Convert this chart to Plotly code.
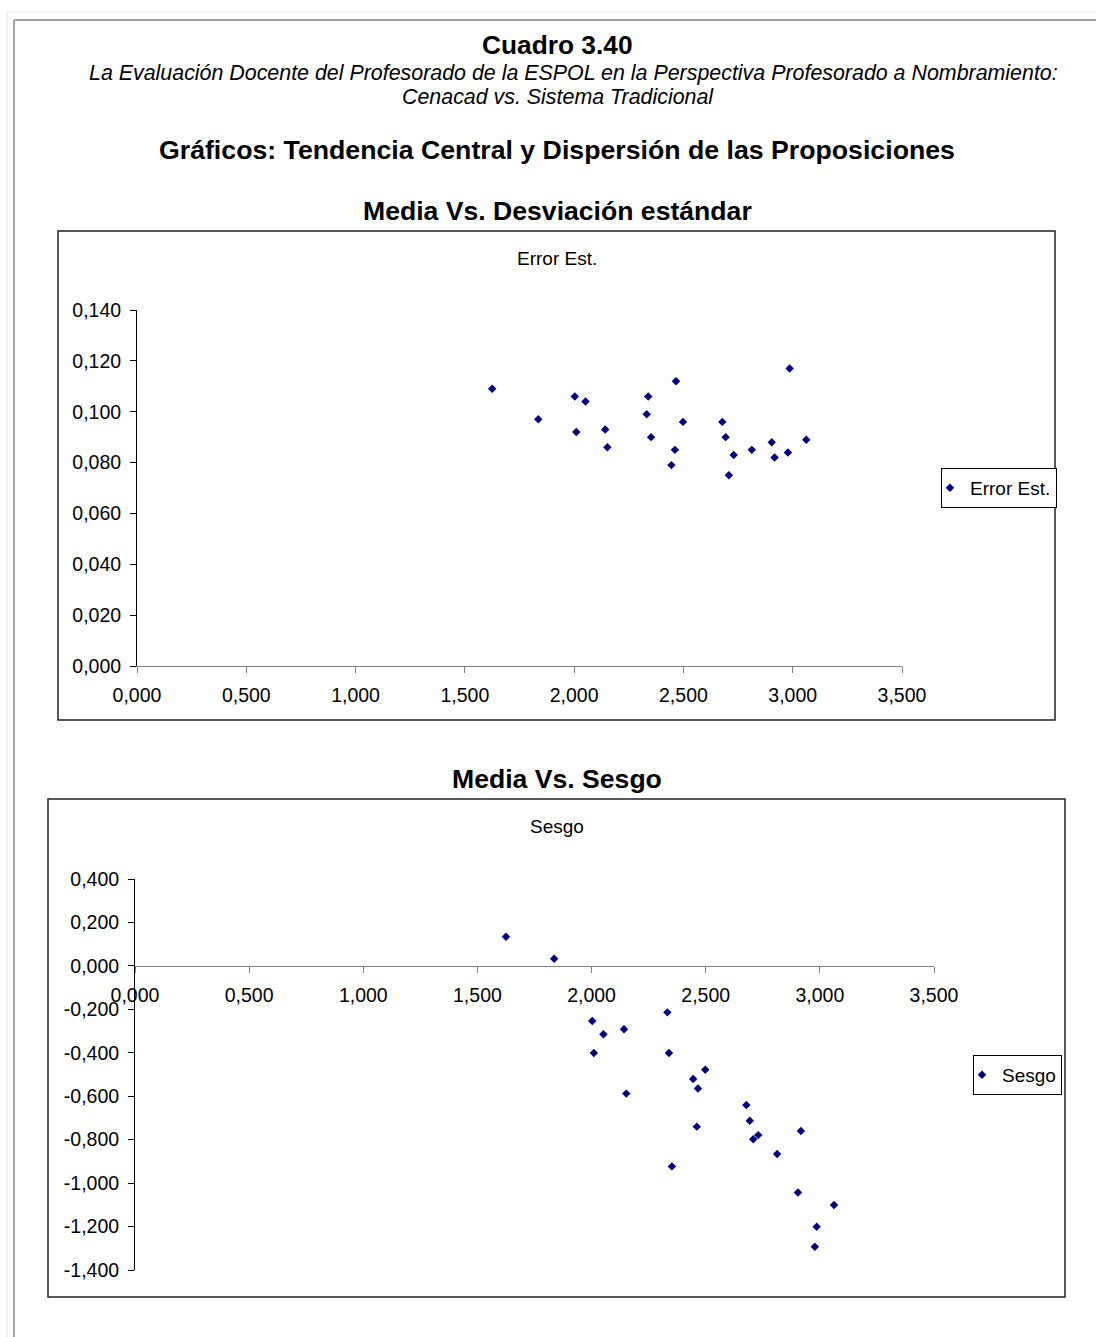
import plotly.graph_objects as go

# Mean score of each proposition and its dispersion statistics
medias = [1.625, 1.836, 2.003, 2.010, 2.052, 2.142, 2.152, 2.332, 2.339, 2.352,
          2.445, 2.461, 2.466, 2.498, 2.678, 2.693, 2.708, 2.730, 2.813, 2.904,
          2.917, 2.978, 2.986, 3.062]
error_est = [0.109, 0.097, 0.106, 0.092, 0.104, 0.093, 0.086, 0.099, 0.106, 0.090,
             0.079, 0.085, 0.112, 0.096, 0.096, 0.090, 0.075, 0.083, 0.085, 0.088,
             0.082, 0.084, 0.117, 0.089]
sesgo = [0.134, 0.033, -0.254, -0.401, -0.315, -0.292, -0.588, -0.214, -0.401, -0.923,
         -0.521, -0.740, -0.564, -0.478, -0.640, -0.713, -0.798, -0.779, -0.866, -1.043,
         -0.760, -1.293, -1.201, -1.101]

# Tick values and labels
x_ticks = [0.0, 0.5, 1.0, 1.5, 2.0, 2.5, 3.0, 3.5]
x_labels = ["0,000", "0,500", "1,000", "1,500", "2,000", "2,500", "3,000", "3,500"]
err_ticks = [0.0, 0.02, 0.04, 0.06, 0.08, 0.10, 0.12, 0.14]
err_labels = ["0,000", "0,020", "0,040", "0,060", "0,080", "0,100", "0,120", "0,140"]
sesgo_ticks = [0.4, 0.2, 0.0, -0.2, -0.4, -0.6, -0.8, -1.0, -1.2, -1.4]
sesgo_labels = ["0,400", "0,200", "0,000", "-0,200", "-0,400", "-0,600", "-0,800",
                "-1,000", "-1,200", "-1,400"]

W, H = 1096, 1337
FONT = "Liberation Sans, Arial, sans-serif"
NAVY = "#000080"


def px(x):
    return x / W


def py(y):
    return 1 - y / H


fig = go.Figure()

fig.add_trace(go.Scatter(
    x=medias, y=error_est, mode="markers", name="Error Est.",
    marker=dict(symbol="diamond", size=6.5, color=NAVY),
    xaxis="x", yaxis="y", legend="legend",
))
fig.add_trace(go.Scatter(
    x=medias, y=sesgo, mode="markers", name="Sesgo",
    marker=dict(symbol="diamond", size=6.5, color=NAVY),
    xaxis="x2", yaxis="y2", legend="legend2",
))

# Plot-area domains (pixels on the page)
top_x = [px(137), px(902)]
top_y = [py(666), py(310)]
bot_x = [px(135), px(934)]
bot_y = [py(1270), py(879)]
s_lo, s_hi = -1.4, 0.4
zero_pos = bot_y[0] + (0 - s_lo) / (s_hi - s_lo) * (bot_y[1] - bot_y[0])

tickfont = dict(family=FONT, size=19.5, color="black")

common_x = dict(range=[0, 3.5], tickvals=x_ticks, ticktext=x_labels,
                showgrid=False, zeroline=False, showline=True,
                linecolor="#808080", linewidth=1, ticks="outside", ticklen=6,
                tickcolor="#808080", tickwidth=1, tickfont=tickfont,
                ticklabelstandoff=6, fixedrange=True, automargin=False)
common_y = dict(showgrid=False, zeroline=False, showline=True,
                linecolor="black", linewidth=1, ticks="outside", ticklen=6,
                tickcolor="black", tickwidth=1, tickfont=tickfont,
                ticklabelstandoff=5, fixedrange=True, automargin=False)

legend_style = dict(xanchor="left", yanchor="middle",
                    bgcolor="white", bordercolor="black", borderwidth=1,
                    font=dict(family=FONT, size=19, color="black"),
                    itemwidth=30, indentation=-12)

fig.update_layout(
    width=W, height=H, autosize=False,
    margin=dict(l=0, r=0, t=0, b=0, pad=0, autoexpand=False),
    paper_bgcolor="white", plot_bgcolor="white",
    font=dict(family=FONT, color="black"),
    xaxis=dict(domain=top_x, anchor="y", **common_x),
    yaxis=dict(domain=top_y, anchor="x", range=[0, 0.14],
               tickvals=err_ticks, ticktext=err_labels, **common_y),
    xaxis2=dict(domain=bot_x, anchor="free", position=zero_pos, **common_x),
    yaxis2=dict(domain=bot_y, anchor="x2", range=[s_lo, s_hi],
                tickvals=sesgo_ticks, ticktext=sesgo_labels, **common_y),
    legend=dict(x=px(941), y=py(488), **legend_style),
    legend2=dict(x=px(973), y=py(1075), **legend_style),
    showlegend=True,
)

# Page frame (top and left edges run off the page) and chart frames
shapes = [
    dict(type="line", x0=px(7), x1=1, y0=py(12), y1=py(12),
         line=dict(color="#e4e4e4", width=1)),
    dict(type="line", x0=px(7), x1=px(7), y0=py(12), y1=0,
         line=dict(color="#e4e4e4", width=1)),
    dict(type="line", x0=px(14), x1=1, y0=py(20), y1=py(20),
         line=dict(color="#a0a0a0", width=2)),
    dict(type="line", x0=px(14), x1=px(14), y0=py(20), y1=0,
         line=dict(color="#a0a0a0", width=2)),
    dict(type="rect", x0=px(58), x1=px(1055), y0=py(231), y1=py(720),
         line=dict(color="#222222", width=1.5)),
    dict(type="rect", x0=px(48), x1=px(1065), y0=py(799), y1=py(1297),
         line=dict(color="#222222", width=1.5)),
]
for s in shapes:
    s.update(xref="paper", yref="paper", layer="below")
fig.update_layout(shapes=shapes)


def label(text, x, y, size, bold=False, italic=False):
    if bold:
        text = f"<b>{text}</b>"
    if italic:
        text = f"<i>{text}</i>"
    fig.add_annotation(text=text, x=px(x), y=py(y), xref="paper", yref="paper",
                       xanchor="center", yanchor="middle", showarrow=False,
                       font=dict(family=FONT, size=size, color="black"))


label("Cuadro 3.40", 557, 45, 26.3, bold=True)
label("La Evaluación Docente del Profesorado de la ESPOL en la Perspectiva "
      "Profesorado a Nombramiento:", 573, 73, 21.4, italic=True)
label("Cenacad vs. Sistema Tradicional", 558, 97, 21.4, italic=True)
label("Gráficos: Tendencia Central y Dispersión de las Proposiciones", 557, 150, 26.7, bold=True)
label("Media Vs. Desviación estándar", 557, 211, 26.6, bold=True)
label("Error Est.", 557, 258, 19)
label("Media Vs. Sesgo", 557, 779, 26.6, bold=True)
label("Sesgo", 557, 826, 19)

fig.write_html("out.html")
